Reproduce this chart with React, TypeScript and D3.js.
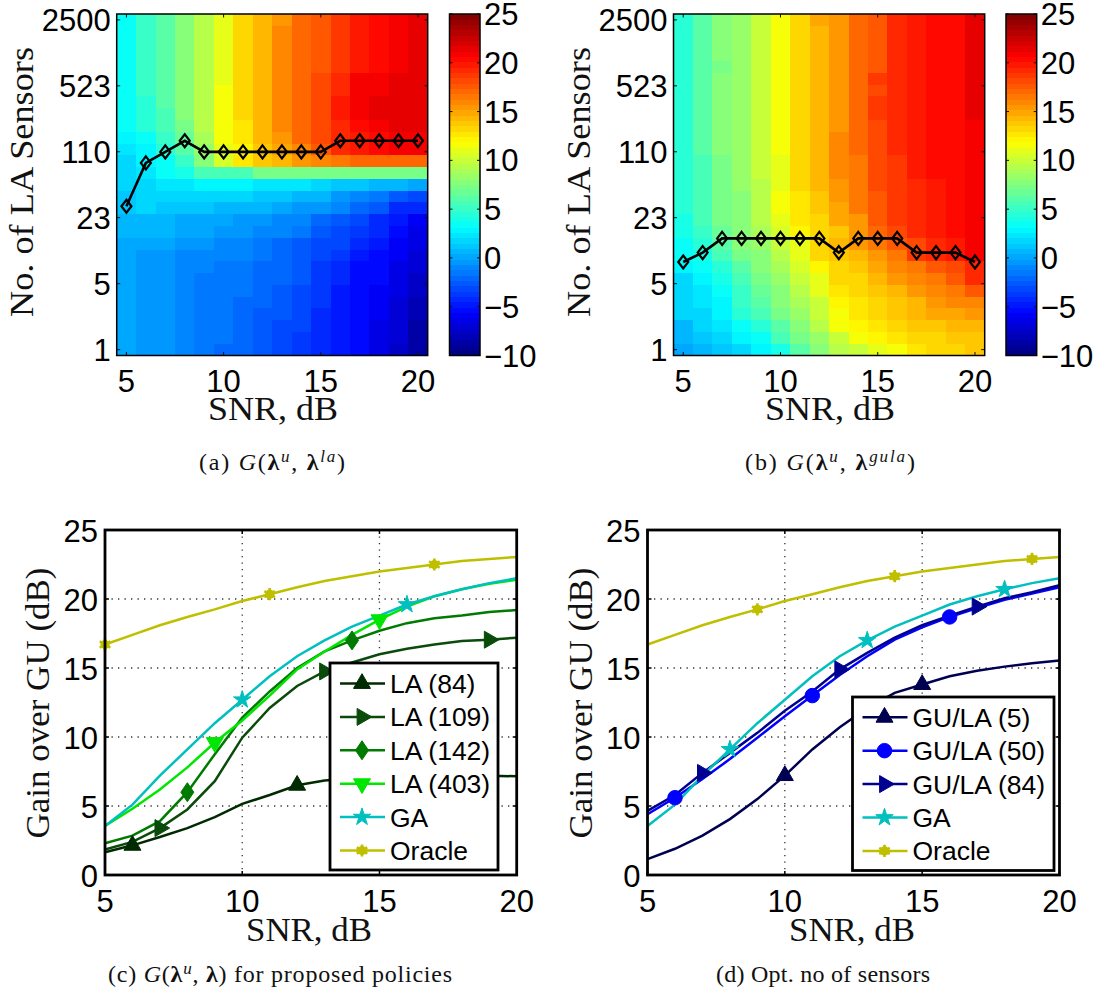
import React from "react";
import * as d3 from "d3";

const snr = [5,6,7,8,9,10,11,12,13,14,15,16,17,18,19,20];
const sensorTicks = [1,4.78,22.9,109.4,523,2500];
const sensorTickLabels = ["1","5","23","110","523","2500"];
const rowCount = 29;

const gainLa = [
[3.6,5.2,6.2,7.8,9.4,11.2,13.2,14.6,15.4,16.8,17.8,18.8,19.6,20.2,20.8,21.2],
[3.6,5.2,6.2,7.8,9.4,11.2,13.2,14.6,15.9,16.8,17.8,18.8,19.6,20.2,20.8,21.2],
[3.6,5.2,6.2,7.8,9.4,11.2,13.2,14.6,15.9,16.8,17.8,18.8,19.6,20.2,20.8,21.2],
[3.5,5.2,6.2,7.8,9.4,11.2,13.2,14.6,15.9,16.8,17.8,18.8,19.6,20.2,20.8,21.2],
[3.5,4.9,6.1,7.7,9.4,11.2,13.2,14.6,15.9,16.8,17.8,18.8,19.6,20.2,20.8,21.2],
[3.4,4.8,6.0,7.6,9.3,11.3,13.2,14.6,15.9,16.9,18,19,20.8,21,21.2,21.4],
[3.4,4.8,6,7.6,9.3,11.8,13,14.5,15.9,16.9,18,19,20.8,21,21.4,21.4],
[3.3,4.7,5.9,7.5,9.3,11.8,13,14.6,16.2,17.2,18.2,19.8,20.8,21.2,21.6,21.6],
[3.3,4.4,5.8,7.5,9.2,11.8,13,14.2,16.2,17.2,18.2,19.8,20.8,21.2,21.4,21.6],
[3.2,4.4,5.8,7.4,9.2,11.8,12.6,14.2,16.2,17.2,18.2,19.2,20.4,21,21.2,21.4],
[2.6,3.5,4.8,6.8,9,11.5,12.6,14.2,15.5,16.8,18,19,19.8,20.6,21,21],
[2.2,3.0,4.6,6.3,8.4,11,12.4,13.8,15,16.2,17.6,19,20,20.6,21,21],
[2.0,2.8,3.2,5,7.5,10.5,12.6,13.6,14.6,15.3,15.8,16.6,16.8,17,17,17],
[1.8,2.3,3.2,4,5.5,5.5,5.7,7,7,7,7,7,7,7,7,7],
[1.5,2,2.2,2.5,2.8,3.1,2.8,2.5,2.5,2.2,2.0,1.3,1.0,0.8,0.6,0.2],
[1.3,1.8,1.9,2,2,1.8,1.5,1.3,1,0.8,0.4,-0.3,-1.2,-1.6,-2.6,-3],
[1.3,1.6,1,1,1,0.8,0.6,0.4,0,-0.3,-0.6,-1.2,-2,-2.5,-4.5,-4.5],
[0.7,0.7,0.7,0.3,0.3,0,-0.2,-0.4,-0.8,-1.2,-2,-2.5,-3,-4,-5,-6],
[0.4,0.4,0.4,0,0,-0.3,-0.6,-0.8,-1.2,-1.6,-2.5,-3,-3.5,-4.5,-5.2,-6.3],
[0.3,0.3,0,-0.3,-0.6,-0.8,-1,-1.3,-1.8,-2.4,-3,-3.2,-4.4,-5,-6,-6.6],
[0.2,-0.3,-0.3,-0.8,-0.8,-1,-1.2,-1.4,-2,-2.5,-3.4,-3.6,-4.8,-5.4,-6,-7],
[0.2,-0.3,-0.3,-0.8,-1.2,-1.4,-1.5,-2,-2.2,-2.6,-3.6,-4,-5.2,-5.6,-6.2,-7.2],
[0.2,-0.3,-0.5,-0.8,-1.3,-1.4,-1.6,-2,-2.2,-2.8,-3.6,-4,-5.2,-5.6,-6.4,-7.4],
[0.2,-0.3,-0.5,-1,-1.3,-1.7,-1.7,-2,-2.5,-3,-3.8,-4.6,-5.2,-5.8,-6.5,-7.6],
[0.2,-0.6,-0.6,-1,-1.3,-1.7,-2,-2.2,-2.8,-3,-3.9,-4.6,-5.2,-6,-7,-8],
[0.2,-0.6,-0.6,-1.2,-1.4,-1.7,-2,-2.4,-2.8,-3.4,-4,-4.7,-5.3,-6,-7,-8.2],
[0.2,-0.6,-0.6,-1.2,-1.5,-1.7,-2,-2.5,-3,-3.4,-4.1,-4.7,-5.5,-6.2,-7,-8.4],
[0.2,-0.6,-0.6,-1.2,-1.5,-1.7,-2,-2.5,-3,-3.5,-4.2,-4.7,-5.5,-6.3,-7.2,-8.6],
[-0.1,-0.6,-0.6,-1.2,-1.5,-1.8,-2.2,-2.8,-3.2,-3.6,-4.3,-4.9,-5.6,-6.4,-7.4,-8.8],
];

const gainGula = [
[4.5,6,7.5,8.5,9.8,11.5,13.3,14.8,15.6,17,17.8,19.2,19.6,20.2,20.6,21.6],
[4.5,6,7.5,8.5,9.8,11.5,13.3,14.2,15.6,17,17.8,19.2,19.6,20.2,20.6,21.6],
[4.5,6,7.5,8.5,9.8,11.5,13.3,14.5,15.6,17,17.8,19.2,19.6,20.2,20.6,21.6],
[4.5,6,7.5,8.5,9.8,11.5,13.3,14.3,15.6,17,17.8,19.2,19.6,20.2,20.6,21.6],
[4.5,6,7,8.5,9.8,11.5,13.3,14.6,15.6,17,17.8,19.2,19.6,20.2,20.6,21.6],
[4.5,6,7.5,8.5,9.8,11.5,13.3,14.6,15.6,17,18.6,19.2,19.6,20.2,20.6,21.6],
[4.5,6,7.5,8.5,9.8,11.5,13.3,14.6,15.6,17,18.2,19.2,19.6,20.2,20.6,21.6],
[4.5,6,7.5,8.5,9.8,11.5,13.3,14.6,15.6,17,18.8,19.2,19.6,20.2,20.6,21.6],
[4.5,6,7.5,8.5,9.8,11.5,13.3,14.6,15.6,17,18.8,19.2,19.6,20.2,20.6,21.4],
[4.5,6,7.5,8.5,9.8,11.5,13.3,14.6,15.6,17,18.3,19.2,19.6,20.2,20.6,20.8],
[4.5,6,7.5,8.5,9.8,11.5,13.3,14.6,16,17,18.3,19.2,19.6,20.2,20.6,20.8],
[4.5,6,7.5,8.5,9.8,11.5,13.3,14.6,16,17,18.3,19.2,19.6,20.2,20.6,20.8],
[4.5,5.8,7.3,8.5,9.8,11.3,13,14.6,15.8,16.6,18,18.8,19.6,20.2,20.6,20.8],
[4.5,5.8,7.3,8.3,9.8,11.3,13,14.4,15.8,16.6,18,18.8,19.6,20.2,20.6,20.8],
[4.4,5.7,7.1,8.3,9.6,11.2,13,14.4,15.6,16.6,18,18.8,19.4,20,20.4,20.8],
[4.3,5.6,7,8,9.3,11.8,12.8,14,15.4,16.4,17.6,18.6,19.2,20,20.4,20.8],
[4.3,5.6,7,8,9.3,11.4,12.6,13.8,15,16.4,17.6,18.6,19.2,20,20.4,20.8],
[4.2,5.5,7,8,9.3,11,12.5,13.5,14.8,15.5,17.5,18.5,19.5,20,20.4,20.8],
[3.8,5,6.5,8,9,10.5,12,13,14,15.5,17,18.2,19.5,20,20.4,20.8],
[3.5,4.5,6,7.5,8.5,10,11,13.5,14.5,15.5,16.5,17.5,18,19.5,20,20.8],
[3.2,4,5.5,7,8,9.5,11,13,14,14.5,15.5,16.5,18.5,19,20,21],
[2.8,3.5,4.5,6,7.5,9,10.5,12,13.5,14,15,16,16.5,17.5,18,19.5],
[2,2.8,4,5.5,7,8.5,10,11.3,13.5,13.5,14.5,15.2,15.8,16.5,17.5,19],
[1.8,2.5,3.5,5,6.5,8,9.5,10.8,12.5,13,14,14.5,15.2,16,16.3,17.5],
[1.8,2.4,3.1,4.8,6,7.5,9,10,12,12.5,13.5,14,14.5,15.5,15.8,16],
[1.5,2.0,2.8,4.5,5.5,7,8.5,9.8,11.8,12.5,13.3,13.8,14.2,14.8,15,15.2],
[0.8,1.5,2.3,3.5,4.5,6.3,7.8,9.3,11.5,12,12.8,13.3,13.8,14,14.2,14.5],
[0.5,1,1.5,2.7,3.5,5.5,7,8.2,10,11.5,12,12.5,13.2,13.5,13.8,13.8],
[0.3,0.7,1.3,2,3,4,6,7.5,9.5,10.2,11,11.5,12.5,13.2,13.5,13.6],
];

const optLa = [30,84,109,142,109,109,109,109,109,109,109,142,142,142,142,142];
const optGula = [8,10,14,14,14,14,14,14,10,14,14,14,10,10,10,8];

const la84 = [1.65,2.15,2.75,3.4,4.2,5.15,5.8,6.5,6.85,7,7.1,7.15,7.2,7.2,7.2,7.15];
const la109 = [1.85,2.4,3.4,4.75,6.8,9.95,12.1,13.7,14.75,15.4,16,16.4,16.7,16.95,17.05,17.2];
const la142 = [2.3,2.85,3.9,6,8.75,11.4,13.3,15,16.2,17,17.7,18.25,18.6,18.8,19.05,19.2];
const la403 = [3.55,4.8,6.2,7.8,9.6,11.2,13,14.9,16.2,17.4,18.5,19.45,20.2,20.7,21.1,21.4];
const ga = [3.55,5.1,7.2,9.1,11,12.7,14.4,15.85,17,18,18.8,19.6,20.2,20.7,21.15,21.5];
const oracle = [16.7,17.4,18.1,18.7,19.25,19.85,20.35,20.85,21.3,21.65,22,22.25,22.5,22.75,22.9,23.05];
const gula5 = [1.15,1.9,2.85,4.05,5.5,7.2,9.1,10.7,12.1,13.2,13.8,14.4,14.8,15.1,15.35,15.55];
const gula50 = [4.4,5.6,6.95,8.4,9.95,11.5,13,14.5,15.85,17.05,17.95,18.7,19.35,19.95,20.4,20.85];
const gula84 = [4.65,5.8,7.4,8.85,10.3,11.9,13.3,14.9,16.1,17.2,18.1,18.8,19.45,20.05,20.5,21];

const SANS = "'Liberation Sans', Arial, sans-serif";
const SERIF = "'Liberation Serif', 'Times New Roman', serif";

function jet(f: number) {
  const q = Math.min(63, Math.max(0, Math.floor(f * 64)));
  const t = (q + 0.5) / 64;
  const c = (x: number) => Math.round(255 * Math.max(0, Math.min(1, 1.5 - Math.abs(4 * t - x))));
  return `rgb(${c(3)},${c(2)},${c(1)})`;
}
const colorFrac = d3.scaleLinear().domain([-10, 25]).range([0, 1]);

function HeatPanel({ x0, x1, cb0, cb1, matrix, opt, ylabelX, xlabelC }: any) {
  const y0 = 14, y1 = 355.5;
  const x = d3.scaleLinear().domain([4.5, 20.5]).range([x0, x1]);
  const rowStep = (y1 - y0) / rowCount;
  const logY = d3.scaleLog().domain([1, 2500]).range([y1 - rowStep / 2, y0 + rowStep / 2]);
  const cbY = d3.scaleLinear().domain([-10, 25]).range([y1, y0]);
  const levels = d3.range(64);
  const line = d3.line<number>().x((_, i) => x(snr[i])).y((d) => logY(d));
  const w = x(6) - x(5);
  const cw = cb1 - cb0;
  return (
    <g>
      {matrix.map((row: number[], r: number) =>
        row.map((v, c) => (
          <rect key={r + "-" + c} x={x(snr[c]) - w / 2} y={y0 + r * rowStep} width={w + 0.3} height={rowStep + 0.3}
            fill={jet(colorFrac(v))} shapeRendering="crispEdges" />
        ))
      )}
      <path d={line(opt) as string} fill="none" stroke="#000" strokeWidth={2.6} />
      {opt.map((d: number, i: number) => {
        const px = x(snr[i]), py = logY(d);
        return <path key={i} d={`M${px},${py - 6.5}L${px + 5},${py}L${px},${py + 6.5}L${px - 5},${py}Z`} fill="none" stroke="#000" strokeWidth={2.2} />;
      })}
      {[5, 10, 15, 20].map((t) => (
        <g key={t}>
          <line x1={x(t)} x2={x(t)} y1={y1} y2={y1 - 3.5} stroke="#111" strokeWidth={1} />
          <line x1={x(t)} x2={x(t)} y1={y0} y2={y0 + 3.5} stroke="#111" strokeWidth={1} />
          <text x={x(t)} y={392} textAnchor="middle" fontFamily={SANS} fontSize={31} fill="#000">{t}</text>
        </g>
      ))}
      {sensorTicks.map((t, i) => (
        <g key={t}>
          <line x1={x0} x2={x0 + 3.5} y1={logY(t)} y2={logY(t)} stroke="#111" strokeWidth={1} />
          <line x1={x1} x2={x1 - 3.5} y1={logY(t)} y2={logY(t)} stroke="#111" strokeWidth={1} />
          <text x={x0 - 6} y={logY(t) + 11} textAnchor="end" fontFamily={SANS} fontSize={31} fill="#000">{sensorTickLabels[i]}</text>
        </g>
      ))}
      <rect x={x0} y={y0} width={x1 - x0} height={y1 - y0} fill="none" stroke="#000" strokeWidth={1.5} />
      <text x={xlabelC} y={420} textAnchor="middle" fontFamily={SERIF} fontSize={34} textLength={130} lengthAdjust="spacingAndGlyphs" fill="#111">SNR, dB</text>
      <text transform={`translate(${ylabelX},182) rotate(-90)`} textAnchor="middle" fontFamily={SERIF} fontSize={34} textLength={270} lengthAdjust="spacingAndGlyphs" fill="#111">No. of LA Sensors</text>
      {levels.map((l) => (
        <rect key={l} x={cb0} width={cw} y={cbY(-10 + ((l + 1) / 64) * 35)} height={(y1 - y0) / 64 + 0.3} fill={jet((l + 0.5) / 64)} shapeRendering="crispEdges" />
      ))}
      {[-10, -5, 0, 5, 10, 15, 20, 25].map((t) => (
        <g key={t}>
          <line x1={cb0} x2={cb0 + 3} y1={cbY(t)} y2={cbY(t)} stroke="#111" strokeWidth={1} />
          <line x1={cb1} x2={cb1 - 3} y1={cbY(t)} y2={cbY(t)} stroke="#111" strokeWidth={1} />
          <text x={cb1 + 4} y={cbY(t) + 11} fontFamily={SANS} fontSize={31} fill="#000">{t < 0 ? "\u2212" + -t : t}</text>
        </g>
      ))}
      <rect x={cb0} y={y0} width={cw} height={y1 - y0} fill="none" stroke="#000" strokeWidth={1.5} />
    </g>
  );
}

function Marker({ kind, x, y, color }: any) {
  const sym = (t: any, s: number, r = 0) => (
    <path d={d3.symbol().type(t).size(s)() as string} transform={`translate(${x},${y}) rotate(${r})`} fill={color} stroke={color} strokeWidth={1} />
  );
  if (kind === "up") return sym(d3.symbolTriangle, 125);
  if (kind === "right") return sym(d3.symbolTriangle, 125, 90);
  if (kind === "down") return sym(d3.symbolTriangle, 125, 180);
  if (kind === "diamond") return <path d={`M${x},${y - 9.5}L${x + 6.5},${y}L${x},${y + 9.5}L${x - 6.5},${y}Z`} fill={color} stroke={color} />;
  if (kind === "circle") return sym(d3.symbolCircle, 165);
  if (kind === "star") return sym(d3.symbolStar, 95);
  return (
    <g transform={`translate(${x},${y})`}>
      <circle r={4.6} fill={color} />
      <path d={d3.symbol().type(d3.symbolAsterisk).size(105)() as string} fill="none" stroke={color} strokeWidth={2.6} />
    </g>
  );
}

function LinePanel({ x0, x1, series, legend, ylabelX, xlabelC }: any) {
  const y0 = 530, y1 = 875;
  const x = d3.scaleLinear().domain([5, 20]).range([x0, x1]);
  const y = d3.scaleLinear().domain([0, 25]).range([y1, y0]);
  const line = d3.line<number>().x((_, i) => x(snr[i])).y((d) => y(d));
  const LH = legend.rowH;
  return (
    <g>
      {[10, 15].map((t) => <line key={t} x1={x(t)} x2={x(t)} y1={y0} y2={y1} stroke="#333" strokeWidth={1.3} strokeDasharray="1.3 5.2" />)}
      {[5, 10, 15, 20].map((t) => <line key={t} x1={x0} x2={x1} y1={y(t)} y2={y(t)} stroke="#333" strokeWidth={1.3} strokeDasharray="1.3 5.2" />)}
      {series.map((s: any) => <path key={s.name} d={line(s.values) as string} fill="none" stroke={s.color} strokeWidth={2.5} />)}
      {series.map((s: any) => s.marks.map((m: number) => (
        <Marker key={s.name + m} kind={s.kind} x={x(m)} y={y(s.values[m - 5])} color={s.color} />
      )))}
      {[5, 10, 15, 20].map((t) => (
        <g key={t}>
          <line x1={x(t)} x2={x(t)} y1={y1} y2={y1 - 4} stroke="#000" strokeWidth={1.5} />
          <line x1={x(t)} x2={x(t)} y1={y0} y2={y0 + 4} stroke="#000" strokeWidth={1.5} />
          <text x={x(t)} y={912} textAnchor="middle" fontFamily={SANS} fontSize={31} fill="#000">{t}</text>
        </g>
      ))}
      {[0, 5, 10, 15, 20, 25].map((t) => (
        <g key={t}>
          <line x1={x0} x2={x0 + 4} y1={y(t)} y2={y(t)} stroke="#000" strokeWidth={1.5} />
          <line x1={x1} x2={x1 - 4} y1={y(t)} y2={y(t)} stroke="#000" strokeWidth={1.5} />
          <text x={x0 - 7} y={y(t) + 12} textAnchor="end" fontFamily={SANS} fontSize={31} fill="#000">{t}</text>
        </g>
      ))}
      <rect x={x0} y={y0} width={x1 - x0} height={y1 - y0} fill="none" stroke="#000" strokeWidth={2.8} />
      <rect x={legend.x0} y={legend.y0} width={legend.x1 - legend.x0} height={legend.y1 - legend.y0} fill="#fff" stroke="#000" strokeWidth={2.8} />
      {series.map((s: any, i: number) => {
        const ly = legend.first + i * LH;
        return (
          <g key={s.name}>
            <line x1={legend.x0 + 10} x2={legend.x0 + 55} y1={ly} y2={ly} stroke={s.color} strokeWidth={2.5} />
            <Marker kind={s.kind} x={legend.x0 + 32} y={ly} color={s.color} />
            <text x={legend.x0 + 60} y={ly + 9.5} fontFamily={SANS} fontSize={26.5} fill="#000">{s.name}</text>
          </g>
        );
      })}
      <text x={xlabelC} y={941} textAnchor="middle" fontFamily={SERIF} fontSize={34} textLength={126} lengthAdjust="spacingAndGlyphs" fill="#111">SNR, dB</text>
      <text transform={`translate(${ylabelX},703) rotate(-90)`} textAnchor="middle" fontFamily={SERIF} fontSize={34} textLength={271} lengthAdjust="spacingAndGlyphs" fill="#111">Gain over GU (dB)</text>
    </g>
  );
}

function Caption({ x, y, width, label, sup, after }: any) {
  return (
    <text x={x} y={y} fontFamily={SERIF} fontSize={24} fill="#111" textLength={width} lengthAdjust="spacing">
      {label} <tspan fontStyle="italic">G</tspan>(<tspan fontWeight="bold">λ</tspan>
      <tspan dy={-8} fontSize={17} fontStyle="italic">u</tspan>
      <tspan dy={8}>, </tspan><tspan fontWeight="bold">λ</tspan>
      {sup ? <tspan dy={-8} fontSize={17} fontStyle="italic">{sup}</tspan> : null}
      <tspan dy={sup ? 8 : 0}>)</tspan>{after}
    </text>
  );
}

export default function App() {
  const gaS = { name: "GA", values: ga, color: "#00bfbf", kind: "star" };
  const seriesC = [
    { name: "LA (84)", values: la84, color: "#002a00", kind: "up", marks: [6, 12, 18] },
    { name: "LA (109)", values: la109, color: "#0a4a0a", kind: "right", marks: [7, 13, 19] },
    { name: "LA (142)", values: la142, color: "#007a00", kind: "diamond", marks: [8, 14] },
    { name: "LA (403)", values: la403, color: "#00e600", kind: "down", marks: [9, 15] },
    { ...gaS, marks: [10, 16] },
    { name: "Oracle", values: oracle, color: "#bfbf00", kind: "oracle", marks: [5, 11, 17] },
  ];
  const seriesD = [
    { name: "GU/LA (5)", values: gula5, color: "#000050", kind: "up", marks: [10, 15] },
    { name: "GU/LA (50)", values: gula50, color: "#0000ff", kind: "circle", marks: [6, 11, 16] },
    { name: "GU/LA (84)", values: gula84, color: "#000090", kind: "right", marks: [7, 12, 17] },
    { ...gaS, marks: [8, 13, 18] },
    { name: "Oracle", values: oracle, color: "#bfbf00", kind: "oracle", marks: [9, 14, 19] },
  ];
  return (
    <svg width={1102} height={993} style={{ position: "absolute", left: 0, top: 0, background: "#fff" }}>
      <HeatPanel x0={116.7} x1={427.7} cb0={449.5} cb1={480} matrix={gainLa} opt={optLa} ylabelX={33} xlabelC={273} />
      <HeatPanel x0={673.5} x1={984.7} cb0={1006} cb1={1036.7} matrix={gainGula} opt={optGula} ylabelX={590} xlabelC={830} />
      <Caption x={199} y={470} width={146} label="(a)" sup="la" />
      <Caption x={745} y={470} width={170} label="(b)" sup="gula" />
      <LinePanel x0={105} x1={516.7} series={seriesC} ylabelX={49} xlabelC={309}
        legend={{ x0: 330, x1: 498, y0: 663, y1: 870, first: 683.5, rowH: 33.4 }} />
      <LinePanel x0={647.5} x1={1059.5} series={seriesD} ylabelX={591.5} xlabelC={852}
        legend={{ x0: 852.5, x1: 1054, y0: 697, y1: 870.5, first: 717.3, rowH: 33.4 }} />
      <Caption x={108} y={982} width={344} label="(c)" after=" for proposed policies" />
      <text x={716} y={982} fontFamily={SERIF} fontSize={24} fill="#111" textLength={214} lengthAdjust="spacing">(d) Opt. no of sensors</text>
    </svg>
  );
}
